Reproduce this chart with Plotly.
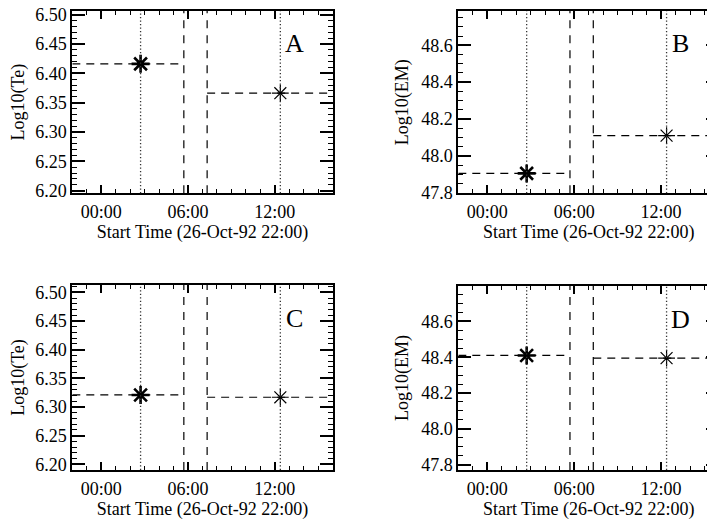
import pandas as pd
import plotly.graph_objects as go

# ---------------- data ----------------
start_time = pd.Timestamp("1992-10-26 22:00")
seg_start_h = [0.0, 9.32]      # interval starts (hours after start_time)
seg_end_h = [7.71, 18.0]       # interval ends
mark_h = [4.72, 14.38]         # times of the fits (dotted lines / asterisks)
te_A = [6.416, 6.366]
em_B = [47.905, 48.11]
te_C = [6.321, 6.317]
em_D = [48.41, 48.395]
panel_letters = ["A", "B", "C", "D"]
ytitles = ["Log10(Te)", "Log10(EM)", "Log10(Te)", "Log10(EM)"]
xtitle = "Start Time (26-Oct-92 22:00)"

def t(h):
    return start_time + pd.Timedelta(hours=h)

W, H = 715, 519
OFF = 8  # default body margin of the html page
FONT = "Liberation Serif"

# pixel frames of the four panels in window pixels: (left, right, top, bottom)
frames = [(72.3, 332.7, 11.0, 193.3), (458.3, 719.0, 11.0, 193.3),
          (72.3, 332.7, 285.0, 470.0), (458.3, 719.0, 286.0, 470.0)]
yranges = [[6.1956, 6.506], [47.797, 48.786], [6.19, 6.513], [47.77, 48.798]]
ydticks = [0.05, 0.2, 0.05, 0.2]
yminor = [0.01, 0.05, 0.01, 0.05]
yfmt = [".2f", ".1f", ".2f", ".1f"]
ystandoff = [7, 8, 7, 8]
values = [te_A, em_B, te_C, em_D]

fig = go.Figure()
layout = dict(width=W, height=H, margin=dict(l=0, r=0, t=0, b=0, autoexpand=False),
              paper_bgcolor="white", plot_bgcolor="rgba(0,0,0,0)", showlegend=False,
              template="none",
              font=dict(family=FONT, size=18, color="black"))
annotations = []
shapes = []

for i in range(4):
    L, R, T, B = [v - OFF for v in frames[i]]
    ax = "" if i == 0 else str(i + 1)
    xa, ya = "x" + ax, "y" + ax
    layout["xaxis" + ax] = dict(
        domain=[L / W, R / W], anchor=ya, type="date", automargin=False,
        range=[t(0), t(18)], layer="above traces",
        tick0=pd.Timestamp("1992-10-27 00:00"), dtick=6 * 3600000,
        tickformat="%H:%M", ticks="inside", ticklen=8, tickwidth=2,
        tickcolor="black", showline=True, linecolor="black", linewidth=2,
        mirror="ticks", showgrid=False, zeroline=False, ticklabelstandoff=1,
        ticklabeloverflow="allow",
        title=dict(text=xtitle, standoff=0, font=dict(family=FONT, size=18)),
        tickfont=dict(family=FONT, size=18),
        minor=dict(dtick=3600000, ticks="inside", ticklen=4,
                   tickwidth=1, tickcolor="black", showgrid=False))
    layout["yaxis" + ax] = dict(
        domain=[1 - B / H, 1 - T / H], anchor=xa, range=yranges[i],
        dtick=ydticks[i], tick0=0, tickformat=yfmt[i], automargin=False,
        layer="above traces", ticklabeloverflow="allow",
        ticks="inside", ticklen=13, tickwidth=2, tickcolor="black",
        showline=True, linecolor="black", linewidth=2, mirror="ticks",
        showgrid=False, zeroline=False,
        title=dict(text=ytitles[i], standoff=ystandoff[i],
                   font=dict(family=FONT, size=18)),
        tickfont=dict(family=FONT, size=18),
        minor=dict(dtick=yminor[i], ticks="inside", ticklen=5,
                   tickwidth=1, tickcolor="black", showgrid=False))

    v = values[i]
    for k in range(2):
        fig.add_trace(go.Scatter(
            x=[t(seg_start_h[k]), t(seg_end_h[k])], y=[v[k], v[k]],
            mode="lines", line=dict(color="black", width=1.2, dash="8px,6px"),
            xaxis=xa, yaxis=ya, hoverinfo="skip"))
    for xb in [seg_end_h[0], seg_start_h[1]]:
        shapes.append(dict(type="line", xref=xa, yref=ya + " domain",
                           x0=t(xb), x1=t(xb), y0=0, y1=1,
                           line=dict(color="black", width=1.2, dash="8px,7px")))
    for xm in mark_h:
        shapes.append(dict(type="line", xref=xa, yref=ya + " domain",
                           x0=t(xm), x1=t(xm), y0=0, y1=1,
                           line=dict(color="#333333", width=1.3, dash="1.3px,2.2px")))
    fig.add_trace(go.Scatter(
        x=[t(mark_h[0])], y=[v[0]], mode="markers",
        marker=dict(symbol="asterisk-open", size=15, color="black",
                    line=dict(color="black", width=2.6)),
        xaxis=xa, yaxis=ya, hoverinfo="skip"))
    fig.add_trace(go.Scatter(
        x=[t(mark_h[1])], y=[v[1]], mode="markers",
        marker=dict(symbol="asterisk-open", size=14, color="black",
                    line=dict(color="black", width=1.2)),
        xaxis=xa, yaxis=ya, hoverinfo="skip"))
    annotations.append(dict(text=panel_letters[i], xref=xa + " domain",
                            yref=ya + " domain", x=0.853, y=0.82,
                            showarrow=False, xanchor="center", yanchor="middle",
                            font=dict(family=FONT, size=26, color="black")))

layout["annotations"] = annotations
layout["shapes"] = shapes
fig.update_layout(**layout)
fig.write_html("out.html")
